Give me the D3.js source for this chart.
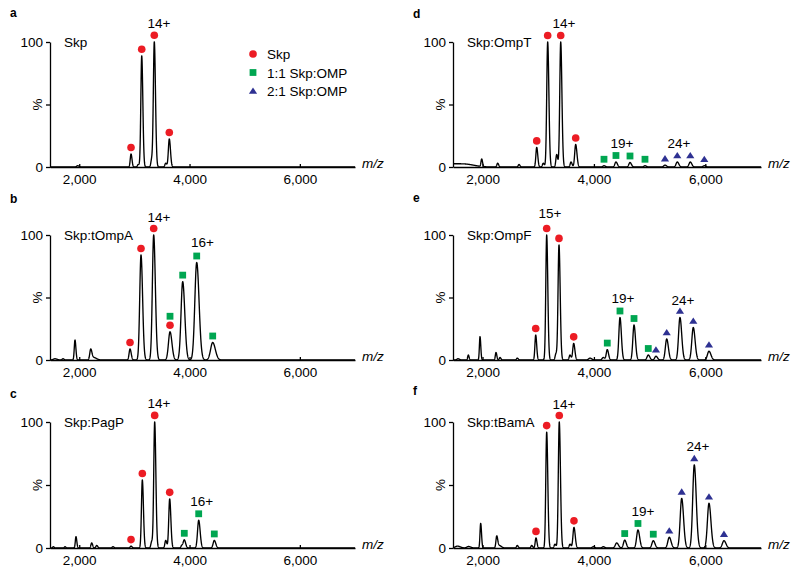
<!DOCTYPE html>
<html><head><meta charset="utf-8">
<script src="https://cdn.jsdelivr.net/npm/d3@7"></script>
<style>
body{margin:0;background:#fff}
svg text{font-family:Arial,"Liberation Sans",sans-serif}
</style>
</head><body>
<svg id="c" width="800" height="574"></svg>
<script>
// ---------- data ----------
const mzDomain = [1470, 7000];
const xTicks = [2000, 4000, 6000];
const yTicks = [0, 50, 100];
const yTickLabels = ["0", "%", "100"];
const legendLabels = ["Skp", "1:1 Skp:OMP", "2:1 Skp:OMP"];
const legendTypes = ["c", "s", "t"];
const panelLetters = ["a", "b", "c", "d", "e", "f"];
const panelTitles = ["Skp", "Skp:tOmpA", "Skp:PagP", "Skp:OmpT", "Skp:OmpF", "Skp:tBamA"];

// peaks: [m/z, relative intensity (%), peak width (m/z)]
const peaksA = [[1972,1,20],[2939,10.4,14],[3071,2,15],[3133,89,16],[3314,6,15],[3361,100,17],[3568,3,15],[3633,22.4,17]];
const peaksB = [[1560,1,30],[1706,1,15],[1923,16,13],[2208,8,17],[2262,2,40],[2921,8.8,17],[3120,84,23],[3350,100,24],[3646,22.6,28],[3876,62.7,30],[4130,78,34],[4420,14,38]];
const peaksC = [[1530,1,12],[1742,1,12],[1941,9,12],[2226,4,14],[2317,2,15],[2612,1,15],[2939,1.5,15],[3144,54,16],[3314,5,15],[3368,100,17],[3568,6,15],[3640,39,17],[3860,2,15],[3905,6.4,19],[4166,22,21],[4449,6,21]];
const peaksD = [[1470,2.5,160],[1750,1.2,120],[1985,6,12],[2272,3,14],[2655,2,14],[2973,15.7,15],[3091,3,15],[3170,100,17],[3332,10,15],[3404,100,17],[3589,4,15],[3673,18,18],[4181,1,20],[4396,4,20],[4648,3.6,20],[4917,1,20],[5276,1.5,22],[5497,4,22],[5730,4,22],[5982,1,22]];
const peaksE = [[1560,1,20],[1745,4,11],[1955,18.7,11],[2242,6,12],[2314,2,13],[2624,1.5,14],[2955,20,14],[3152,100,16],[3319,5,15],[3373,92,17],[3571,4,15],[3637,13.3,17],[3930,1.5,25],[4168,2,20],[4240,8.3,18],[4468,34,20],[4720,28,21],[4976,4,22],[5114,3,22],[5307,16.8,24],[5545,34,25],[5784,26,26],[6066,7,28]];
const peaksF = [[1550,1.5,40],[1750,1.2,30],[1967,19.6,12],[2255,9,14],[2300,2,30],[2624,2,14],[2883,2,14],[2960,8,14],[3152,92,16],[3301,3,15],[3378,100,17],[3571,3,15],[3642,16.4,18],[3989,1,20],[4168,1,20],[4409,4,25],[4553,6.3,22],[4791,14.3,24],[5066,5.8,24],[5353,8.5,26],[5576,39.4,27],[5802,66,28],[6066,35.5,28],[6335,5.8,28]];

// markers: [m/z of peak, species: c = Skp, s = 1:1 Skp:OMP, t = 2:1 Skp:OMP]
const markersA = [[2939,"c"],[3133,"c"],[3361,"c"],[3633,"c"]];
const markersB = [[2921,"c"],[3120,"c"],[3350,"c"],[3646,"c"],[3646,"s"],[3876,"s"],[4130,"s"],[4420,"s"]];
const markersC = [[2939,"c"],[3144,"c"],[3368,"c"],[3640,"c"],[3905,"s"],[4166,"s"],[4449,"s"]];
const markersD = [[2973,"c"],[3170,"c"],[3404,"c"],[3673,"c"],[4181,"s"],[4396,"s"],[4648,"s"],[4917,"s"],[5276,"t"],[5497,"t"],[5730,"t"],[5982,"t"]];
const markersE = [[2955,"c"],[3152,"c"],[3373,"c"],[3637,"c"],[4240,"s"],[4468,"s"],[4720,"s"],[4976,"s"],[5114,"t"],[5307,"t"],[5545,"t"],[5784,"t"],[6066,"t"]];
const markersF = [[2960,"c"],[3152,"c"],[3378,"c"],[3642,"c"],[4553,"s"],[4791,"s"],[5066,"s"],[5353,"t"],[5576,"t"],[5802,"t"],[6066,"t"],[6335,"t"]];

// charge-state labels: [text, m/z, level (%)]
const chargeA = [["14+",3446,111]];
const chargeB = [["14+",3446,110.6],["16+",4235,90.6]];
const chargeC = [["14+",3446,111.3],["16+",4221,33.3]];
const chargeD = [["14+",3463,111.2],["19+",4504,15],["24+",5527,15]];
const chargeE = [["15+",3211,113.6],["19+",4522,45.6],["24+",5599,44]];
const chargeF = [["14+",3463,110.3],["19+",4881,25.6],["24+",5869,77]];

// ---------- layout ----------
const colors = {c:"#ec1c24", s:"#00a651", t:"#2e3192"};
const FS = 13.5;
const layout = [
  {x0:50,  x1:355, y0:167, y100:42,  lx:10,  ly:17},
  {x0:50,  x1:355, y0:360, y100:235, lx:10,  ly:203},
  {x0:50,  x1:355, y0:548, y100:422, lx:10,  ly:398},
  {x0:453, x1:761, y0:167, y100:42,  lx:413, ly:18},
  {x0:453, x1:761, y0:360, y100:235, lx:413, ly:202},
  {x0:453, x1:761, y0:548, y100:422, lx:413, ly:395}
];
const peaksAll = [peaksA, peaksB, peaksC, peaksD, peaksE, peaksF];
const markersAll = [markersA, markersB, markersC, markersD, markersE, markersF];
const chargeAll = [chargeA, chargeB, chargeC, chargeD, chargeE, chargeF];

function profile(peaks, m){
  let v = 0;
  for (const [c,h,w] of peaks){
    const s = m < c ? w : w*1.25;
    const d = (m-c)/s;
    if (Math.abs(d) < 8) v += h*Math.exp(-0.5*d*d);
  }
  return v;
}
function drawMarker(g, type, cx, cy){
  if (type === "c"){
    g.append("circle").attr("cx",cx).attr("cy",cy).attr("r",3.8).attr("fill",colors.c);
  } else if (type === "s"){
    g.append("rect").attr("x",cx-3.4).attr("y",cy-3.4).attr("width",6.8).attr("height",6.8).attr("fill",colors.s);
  } else {
    g.append("path").attr("d",`M${cx},${cy-3.6}L${cx+4.1},${cy+2.8}L${cx-4.1},${cy+2.8}Z`).attr("fill",colors.t);
  }
}

const svg = d3.select("#c");

layout.forEach((p,i)=>{
  const x = d3.scaleLinear().domain(mzDomain).range([p.x0,p.x1]);
  const y = d3.scaleLinear().domain([0,100]).range([p.y0,p.y100]);
  const g = svg.append("g");
  const peaks = peaksAll[i];

  // spectrum trace
  const pts = d3.range(mzDomain[0], mzDomain[1]+0.1, 2).map(m=>[m, profile(peaks,m)]);
  g.append("path").datum(pts)
    .attr("d", d3.line().x(d=>x(d[0])).y(d=>y(d[1])))
    .attr("fill","none").attr("stroke","#000").attr("stroke-width",1.35).attr("stroke-linejoin","round");

  // axes
  const xa = g.append("g").attr("transform",`translate(0,${p.y0})`)
    .call(d3.axisBottom(x).tickValues(xTicks).tickFormat(d3.format(",")).tickSize(-3).tickSizeOuter(0).tickPadding(7));
  const ya = g.append("g").attr("transform",`translate(${p.x0},0)`)
    .call(d3.axisLeft(y).tickValues(yTicks).tickFormat((d,k)=> yTickLabels[k]==="%" ? "" : yTickLabels[k]).tickSize(4).tickSizeOuter(0).tickPadding(3));
  [xa,ya].forEach(a=>{
    a.attr("font-family",null).attr("font-size",null);
    a.selectAll("path,line").attr("stroke","#000").attr("stroke-width",1.3);
    a.selectAll("text").attr("font-size",FS).attr("fill","#000");
  });
  g.append("text").attr("transform",`translate(${p.x0-8},${y(50)}) rotate(-90)`)
    .attr("text-anchor","middle").attr("font-size",FS).text(yTickLabels[1]);
  g.append("text").attr("x",p.x1+7).attr("y",p.y0+1).attr("font-size",FS).attr("font-style","italic").text("m/z");

  // panel letter + title
  g.append("text").attr("x",p.lx).attr("y",p.ly).attr("font-size",12).attr("font-weight","bold").text(panelLetters[i]);
  g.append("text").attr("x",p.x0+14).attr("y",p.y100+5).attr("font-size",FS).text(panelTitles[i]);

  // markers
  const seen = {};
  markersAll[i].forEach(([m,t])=>{
    const k = seen[m] || 0; seen[m] = k+1;
    const top = y(profile(peaks,m));
    drawMarker(g, t, x(m), top - 6.5 - k*9);
  });

  // charge labels
  chargeAll[i].forEach(([t,m,lv])=>{
    g.append("text").attr("x",x(m)).attr("y",y(lv)).attr("text-anchor","middle").attr("font-size",FS).text(t);
  });

  // legend (panel a only)
  if (i === 0){
    legendLabels.forEach((lab,k)=>{
      const ly = 54 + k*18.5;
      drawMarker(g, legendTypes[k], 253, ly);
      g.append("text").attr("x",267).attr("y",ly+5).attr("font-size",FS).text(lab);
    });
  }
});
</script>
</body></html>
